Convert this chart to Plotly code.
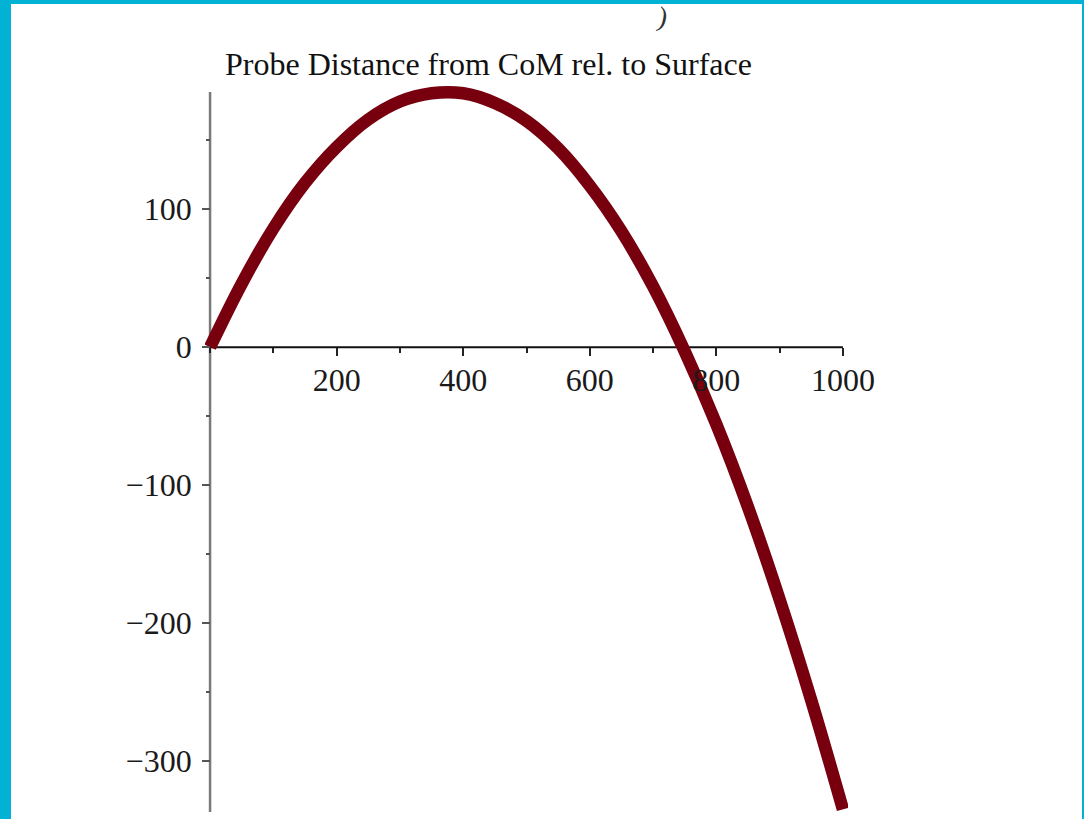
import plotly.graph_objects as go

# ---- data ----
X_VALUES = [0, 50, 100, 150, 200, 250, 300, 350, 400, 450, 500,
            550, 600, 650, 700, 750, 800, 850, 900, 950, 1000]
Y_VALUES = [0, 46, 86, 119, 145, 165, 178, 184, 184, 177, 164,
            144, 117, 84, 44, -3, -56, -116, -183, -256, -335]

TITLE = "Probe Distance from CoM rel. to Surface"
X_TICKS = [200, 400, 600, 800, 1000]
Y_TICKS = [-300, -200, -100, 0, 100]
X_AXIS_END = 1000
Y_AXIS_MIN = -337
Y_AXIS_MAX = 185

# ---- layout geometry ----
W, H = 1084, 819
X_RANGE = [-8, 1008]
Y_RANGE = [-342, 190]
ML, MT, PW, PH = 205, 85, 643, 734
MR = W - ML - PW
MB = H - MT - PH


def px_to_paper_x(px):
    return (px - ML) / PW


def px_to_paper_y(py):
    return 1 - (py - MT) / PH


x_axis_pos = (0 - Y_RANGE[0]) / (Y_RANGE[1] - Y_RANGE[0])
y_axis_pos = (0 - X_RANGE[0]) / (X_RANGE[1] - X_RANGE[0])

FONT = "Liberation Serif, Times New Roman, serif"
CYAN = "#02B2D4"
CURVE = "#78000E"

fig = go.Figure()
fig.add_trace(go.Scatter(
    x=X_VALUES, y=Y_VALUES, mode="lines",
    line=dict(color=CURVE, width=12.5, shape="spline"),
    showlegend=False, hoverinfo="skip",
))

fig.update_layout(
    width=W, height=H, autosize=False,
    margin=dict(l=ML, r=MR, t=MT, b=MB, pad=0),
    paper_bgcolor="white", plot_bgcolor="white",
    font=dict(family=FONT, color="#1a1a1a", size=32),
    xaxis=dict(
        range=X_RANGE, showgrid=False, zeroline=False, showline=False,
        anchor="free", position=x_axis_pos,
        tickmode="array", tickvals=X_TICKS,
        ticks="outside", ticklen=8, tickwidth=1.5, tickcolor="#222",
        minor=dict(dtick=100, tick0=0, ticks="outside", ticklen=5,
                   tickwidth=1.5, tickcolor="#222"),
        tickfont=dict(family=FONT, size=32, color="#1a1a1a"),
        ticklabelstandoff=-4,
    ),
    yaxis=dict(
        range=Y_RANGE, showgrid=False, zeroline=False, showline=False,
        anchor="free", position=y_axis_pos,
        tickmode="array", tickvals=Y_TICKS,
        ticks="outside", ticklen=8, tickwidth=1.5, tickcolor="#555",
        minor=dict(dtick=50, tick0=0, ticks="outside", ticklen=4,
                   tickwidth=1.5, tickcolor="#555"),
        tickfont=dict(family=FONT, size=32, color="#1a1a1a"),
        ticklabelstandoff=4,
    ),
    shapes=[
        # axis lines crossing at the origin
        dict(type="line", xref="x", yref="y", x0=0, x1=0,
             y0=Y_AXIS_MIN, y1=Y_AXIS_MAX,
             line=dict(color="#7a7a7a", width=2.5), layer="below"),
        dict(type="line", xref="x", yref="y", x0=0, x1=X_AXIS_END,
             y0=0, y1=0, line=dict(color="#111", width=2), layer="below"),
        # cyan frame
        dict(type="rect", xref="paper", yref="paper",
             x0=px_to_paper_x(-5), x1=px_to_paper_x(11),
             y0=px_to_paper_y(830), y1=px_to_paper_y(-5),
             fillcolor=CYAN, line=dict(width=0), layer="below"),
        dict(type="rect", xref="paper", yref="paper",
             x0=px_to_paper_x(-5), x1=px_to_paper_x(1090),
             y0=px_to_paper_y(4), y1=px_to_paper_y(-5),
             fillcolor=CYAN, line=dict(width=0), layer="below"),
        dict(type="rect", xref="paper", yref="paper",
             x0=px_to_paper_x(1082), x1=px_to_paper_x(1090),
             y0=px_to_paper_y(830), y1=px_to_paper_y(-5),
             fillcolor=CYAN, line=dict(width=0), layer="below"),
    ],
    annotations=[
        dict(text=TITLE, xref="paper", yref="paper",
             x=px_to_paper_x(488), y=px_to_paper_y(64),
             xanchor="center", yanchor="middle", showarrow=False,
             font=dict(family=FONT, size=32, color="#111")),
        dict(text=")", xref="paper", yref="paper",
             x=px_to_paper_x(662), y=px_to_paper_y(17),
             xanchor="center", yanchor="middle", showarrow=False,
             textangle=12,
             font=dict(family=FONT, size=28, color="#333")),
    ],
)

fig.write_html(
    "out.html",
    config={"displayModeBar": False},
    post_script="document.body.style.margin='0';document.body.style.padding='0';",
)
